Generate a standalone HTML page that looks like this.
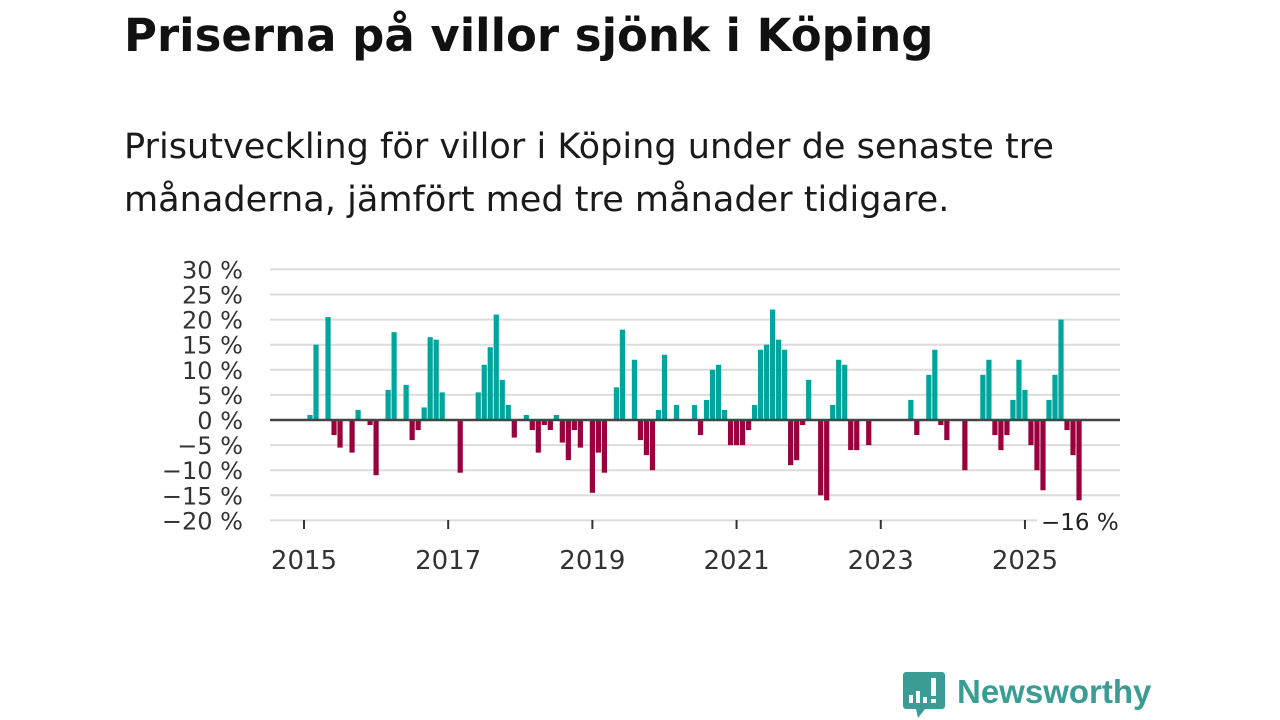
<!DOCTYPE html>
<html><head><meta charset="utf-8">
<style>
body{margin:0;background:#fff;width:1280px;height:720px;overflow:hidden;font-family:"DejaVu Sans",sans-serif;}
#title{position:absolute;left:124px;top:9px;font-size:45px;font-weight:bold;color:#111;margin:0;font-family:"DejaVu Sans",sans-serif;white-space:nowrap}
#sub{position:absolute;left:124px;top:120px;font-size:35.1px;line-height:53px;color:#1a1a1a;margin:0;font-family:"DejaVu Sans",sans-serif;white-space:nowrap}
svg{position:absolute;left:0;top:0}
</style></head><body>
<h1 id="title">Priserna på villor sjönk i Köping</h1>
<p id="sub">Prisutveckling för villor i Köping under de senaste tre<br>månaderna, jämfört med tre månader tidigare.</p>
<svg id="chart" width="1280" height="720"></svg>
<script>
const months=[0,1,3,4,5,7,8,10,11,13,14,16,17,18,19,20,21,22,25,28,29,30,31,32,33,34,36,37,38,39,40,41,42,43,44,45,47,48,49,51,52,54,55,56,57,58,59,61,64,65,66,67,68,69,70,71,72,73,74,75,76,77,78,79,80,81,82,83,85,86,87,88,89,90,91,93,100,101,103,104,105,106,109,112,113,114,115,116,117,118,119,120,121,122,123,124,125,126,127,128];
const values=[1,15,20.5,-3,-5.5,-6.5,2,-1,-11,6,17.5,7,-4,-2,2.5,16.5,16,5.5,-10.5,5.5,11,14.5,21,8,3,-3.5,1,-2,-6.5,-1,-2,1,-4.5,-8,-2,-5.5,-14.5,-6.5,-10.5,6.5,18,12,-4,-7,-10,2,13,3,3,-3,4,10,11,2,-5,-5,-5,-2,3,14,15,22,16,14,-9,-8,-1,8,-15,-16,3,12,11,-6,-6,-5,4,-3,9,14,-1,-4,-10,9,12,-3,-6,-3,4,12,6,-5,-10,-14,4,9,20,-2,-7,-16];
const yTicks=[30,25,20,15,10,5,0,-5,-10,-15,-20];
const xYears=[2015,2017,2019,2021,2023,2025];
const lastLabel="−16 %";
const NS="http://www.w3.org/2000/svg";
const svg=document.getElementById('chart');
const FONT="DejaVu Sans, sans-serif";
const y=v=>420-v*5.02;
const x=m=>304+m*6.008;
function mk(t,a){const e=document.createElementNS(NS,t);for(const k in a)e.setAttribute(k,a[k]);svg.appendChild(e);return e;}
yTicks.forEach(t=>{
  const l=mk('line',{x1:270,x2:t===-20?1037:1120,y1:y(t),y2:y(t),stroke:'#dcdcdc','stroke-width':2});
  
  
  const tx=mk('text',{x:243,y:y(t)+9,'text-anchor':'end','font-size':24,fill:'#333','font-family':FONT});
  tx.textContent=(t<0?'−'+(-t):t)+' %';
  
  
});
months.forEach((m,i)=>{
  const v=values[i];
  const r=mk('rect',{x:x(m+1)-2.6,width:5.2,y:v>=0?y(v):y(0),height:Math.abs(y(v)-y(0)),fill:v>=0?'#00a59b':'#99003c'});
  
  
});
const z=mk('line',{x1:270,x2:1120,y1:y(0),y2:y(0),stroke:'#444','stroke-width':2.5});


xYears.forEach(yr=>{
  const m=(yr-2015)*12;
  const t=mk('line',{x1:x(m),x2:x(m),y1:520,y2:529,stroke:'#333','stroke-width':2});
  
  
  const tx=mk('text',{x:x(m),y:569,'text-anchor':'middle','font-size':26,fill:'#333','font-family':FONT});
  tx.textContent=yr;
  
  
});
const ll=mk('text',{x:1041,y:530,'font-size':23,fill:'#222','font-family':FONT});
ll.textContent=lastLabel;


</script>
<svg width="1280" height="720" style="pointer-events:none">
<path d="M906 672 h36 a3 3 0 0 1 3 3 v31 a3 3 0 0 1 -3 3 h-17 l-7 9 l-2 -9 h-10 a3 3 0 0 1 -3 -3 v-31 a3 3 0 0 1 3 -3z" fill="#3a9c95"/>
<rect x="909" y="695" width="4" height="8" fill="#fff"/><rect x="916" y="691" width="4" height="12" fill="#fff"/><rect x="923" y="697" width="4" height="6" fill="#fff"/><rect x="931" y="678" width="5" height="18" fill="#fff"/><rect x="931" y="699" width="5" height="4" fill="#fff"/>
<text x="957" y="703" font-size="33" font-weight="bold" fill="#3a9c95" font-family="Liberation Sans, sans-serif">Newsworthy</text>
</svg>
</body></html>
